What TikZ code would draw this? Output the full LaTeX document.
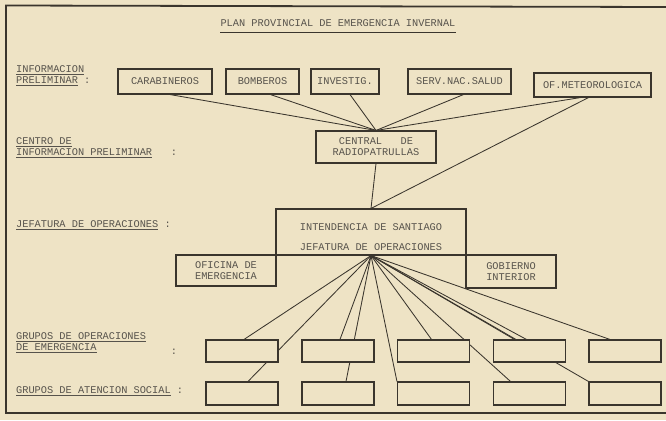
\documentclass[tikz,border=0pt]{standalone}
\usepackage{fontspec}
\setmonofont{Liberation Mono}
\usetikzlibrary{positioning,backgrounds}
\definecolor{paper}{HTML}{EEE3C5}
\definecolor{ink}{HTML}{3A352D}
\newcommand{\typed}{\ttfamily\fontsize{10.3}{11}\selectfont}
\tikzset{
unit_box/.style={
	% The shape:
	rectangle,
	% The border:
	draw=ink,
	line width=1.1pt,
	% The filling:
	% same as the sheet, so that it hides lines behind it
	fill=paper,
	% Font
	font=\typed,
	align=center,
	text=ink!85
},
blank_box/.style={unit_box, minimum width=72pt, minimum height=22pt},
level_label/.style={
	anchor=west,
	inner sep=0pt,
	align=left,
	font=\typed,
	text=ink!85
},
colon_mark/.style={inner sep=0pt, font=\typed, text=ink!85},
link/.style={draw=ink, line width=0.85pt}
}

\begin{document}
\begin{tikzpicture}[x=1pt, y=-1pt]
	\useasboundingbox (0,0) rectangle (666,420);
	\begin{pgfonlayer}{background}
		\fill[paper] (0,0) rectangle (666,420);
	\end{pgfonlayer}
	% sheet frame
	\draw[ink, line width=1.8pt] (666,7) -- (6,5.5) -- (6,413) -- (666,413);

	% title
	\node[colon_mark] (title) at (338,23) {PLAN PROVINCIAL DE EMERGENCIA INVERNAL};
	\draw[ink, line width=1.3pt] ([yshift=-5.5pt]title.south west) -- ([yshift=-5.5pt]title.south east);

	% levels
	\node[level_label] (lbl_info) at (16,76) {\underline{INFORMACION}\\\underline{PRELIMINAR} :};
	\node[level_label] (lbl_centro) at (16,147.5) {\underline{CENTRO DE}\\\underline{INFORMACION PRELIMINAR}};
	\node[colon_mark] (col_centro) at (174,153) {:};
	\node[level_label] (lbl_jefatura) at (16,225) {\underline{JEFATURA DE OPERACIONES} :};
	\node[level_label] (lbl_grupos_op) at (16,342.5) {\underline{GRUPOS DE OPERACIONES}\\\underline{DE EMERGENCIA}};
	\node[colon_mark] (col_grupos_op) at (174,352) {:};
	\node[level_label] (lbl_grupos_at) at (16,391) {\underline{GRUPOS DE ATENCION SOCIAL} :};

	% information sources
	\node[unit_box, minimum width=94pt, minimum height=25pt] (carab) at (165,81.5) {CARABINEROS};
	\node[unit_box, minimum width=73pt, minimum height=25pt] (bomb) at (262.5,81.5) {BOMBEROS};
	\node[unit_box, minimum width=68pt, minimum height=25pt] (invest) at (345,81.5) {INVESTIG.};
	\node[unit_box, minimum width=103pt, minimum height=25pt] (serv) at (459.5,81.5) {SERV.NAC.SALUD};
	\node[unit_box, minimum width=117pt, minimum height=24pt] (meteo) at (592.5,85) {OF.METEOROLOGICA};

	\node[unit_box, minimum width=120pt, minimum height=32pt] (central) at (376,147) {CENTRAL\ \ \ DE\\RADIOPATRULLAS};

	% command
	\node[unit_box, minimum width=190pt, minimum height=46pt] (intend) at (371,232) {};
	\node[colon_mark, align=center] (intend_text) at (371,237) {INTENDENCIA DE SANTIAGO\\[9pt]JEFATURA DE OPERACIONES};
	\node[unit_box, minimum width=100pt, minimum height=31pt] (oficina) at (226,270.5) {OFICINA DE\\EMERGENCIA};
	\node[unit_box, minimum width=90pt, minimum height=33pt] (gobierno) at (511,271.5) {GOBIERNO\\INTERIOR};

	% groups
	\foreach \i/\x in {1/242,2/338,3/433.5,4/529.5,5/625}{
		\node[blank_box] (op\i) at (\x,351) {};
		\node[blank_box, minimum height=23pt] (at\i) at (\x,393.5) {};
	}

	\begin{pgfonlayer}{background}
		\draw[link] ([xshift=5pt]carab.south) -- (central.north);
		\draw[link] ([xshift=8pt]bomb.south) -- (central.north);
		\draw[link] ([xshift=5pt]invest.south) -- (central.north);
		\draw[link] ([xshift=4pt]serv.south) -- (central.north);
		\draw[link] ([xshift=-12pt]meteo.south) -- (central.north);
		\draw[link] ([xshift=-4pt]meteo.south) -- (intend.north);
		\draw[link] (central.south) -- (intend.north);

		\draw[link] (intend.south) -- ([xshift=2pt]op1.north);
		\draw[link] (intend.south) -- ([xshift=6pt]at1.north);
		\draw[link] (intend.south) -- ([xshift=2pt]op2.north);
		\draw[link] (intend.south) -- ([xshift=8pt]at2.north);
		\draw[link] (intend.south) -- (at3.north west);
		\draw[link] (intend.south) -- ([xshift=-2pt]op3.north);
		\draw[link] (intend.south) -- ([xshift=-19pt]at4.north);
		\draw[link] (intend.south) -- ([xshift=-15pt]op4.north);
		\draw[link] (intend.south) -- ([xshift=-3pt]op4.north);
		\draw[link] (intend.south) -- ([xshift=-15pt]op5.north);
		\draw[link] (intend.south) -- (at5.north west);
	\end{pgfonlayer}
\end{tikzpicture}
\end{document}
